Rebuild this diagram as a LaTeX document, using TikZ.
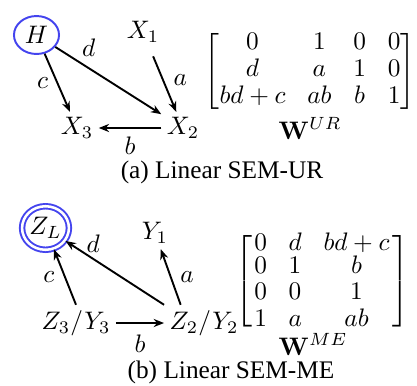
\documentclass[tikz,border=0pt]{standalone}
\usepackage{amsmath}
\usepackage[no-math]{fontspec}
\setmainfont{Liberation Serif}
\usepackage{tikz}
\usetikzlibrary{arrows.meta,positioning,shapes.geometric}
\definecolor{latentblue}{HTML}{4444EE}

\begin{document}
\begin{tikzpicture}[x=0.395pt,y=-0.395pt,
  var/.style={inner sep=2pt},
  latent/.style={ellipse,draw=latentblue,line width=0.77pt,inner sep=0pt,
                 minimum width=17.8pt,minimum height=15pt},
  latentdbl/.style={latent,double=white,double distance=1pt,
                    minimum width=18.5pt,minimum height=17.2pt},
  edge/.style={line width=0.75pt,-{Stealth[length=4.1pt,width=3.2pt]}},
  lbl/.style={inner sep=1pt},
  capt/.style={anchor=base}]
  \useasboundingbox (0,0) rectangle (417,385);

  % (a) Linear SEM-UR
  \node[latent] (H) at (36.5,35) {$H$};
  \node[var] (X1) at (143,32) {$X_1$};
  \node[var] (X3) at (77,128) {$X_3$};
  \node[var] (X2) at (183,128) {$X_2$};

  \draw[edge] (H) -- node[lbl,left=2.3pt] {$c$} (X3);
  \draw[edge] (H) -- node[lbl,pos=0.21,above right=0.6pt] {$d$} (X2);
  \draw[edge,shorten <=3.5pt] (X1) -- node[lbl,right=2.8pt] {$a$} (X2);
  \draw[edge] (X2) -- node[lbl,below=2.2pt] {$b$} (X3);

  \node[inner sep=0pt] (MUR) at (310,71.5)
    {\renewcommand{\arraystretch}{0.89}\setlength{\arraycolsep}{4.3pt}%
     $\begin{bmatrix} 0 & 1 & 0 & 0\\ d & a & 1 & 0\\ bd+c & ab & b & 1\end{bmatrix}$};
  \node[capt] (WUR) at (310,139) {$\mathbf{W}^{UR}$};
  \node[capt] (capA) at (222,178) {(a) Linear SEM-UR};

  % (b) Linear SEM-ME
  \node[latentdbl] (ZL) at (45.5,228) {$Z_L$};
  \node[var] (Y1) at (155,233) {$Y_1$};
  \node[var] (Z3) at (76,323) {$Z_3/Y_3$};
  \node[var] (Z2) at (204,323) {$Z_2/Y_2$};

  \draw[edge] (Z3.north) -- node[lbl,left=2.8pt] {$c$} (ZL);
  \draw[edge] (Z2.north west) -- node[lbl,pos=0.72,above=1.2pt] {$d$} (ZL);
  \draw[edge] (Z2.142) -- node[lbl,right=2.4pt] {$a$} (Y1);
  \draw[edge] (Z3) -- node[lbl,below=3.2pt] {$b$} (Z2);

  \node[inner sep=0pt] (MME) at (322,281)
    {\renewcommand{\arraystretch}{0.3}%
     $\left[\begin{array}{@{\hspace{1pt}}l@{\hspace{8.5pt}}l@{\hspace{8.5pt}}c@{\hspace{1pt}}}
       0 & d & bd+c\\[1pt]
       0 & 1 & b\\[2.8pt]
       0 & 0 & 1\\[2.4pt]
       1 & a & ab
     \end{array}\right]$};
  \node[capt] (WME) at (313,355) {$\mathbf{W}^{ME}$};
  \node[capt] (capB) at (231,378) {(b) Linear SEM-ME};
\end{tikzpicture}
\end{document}
